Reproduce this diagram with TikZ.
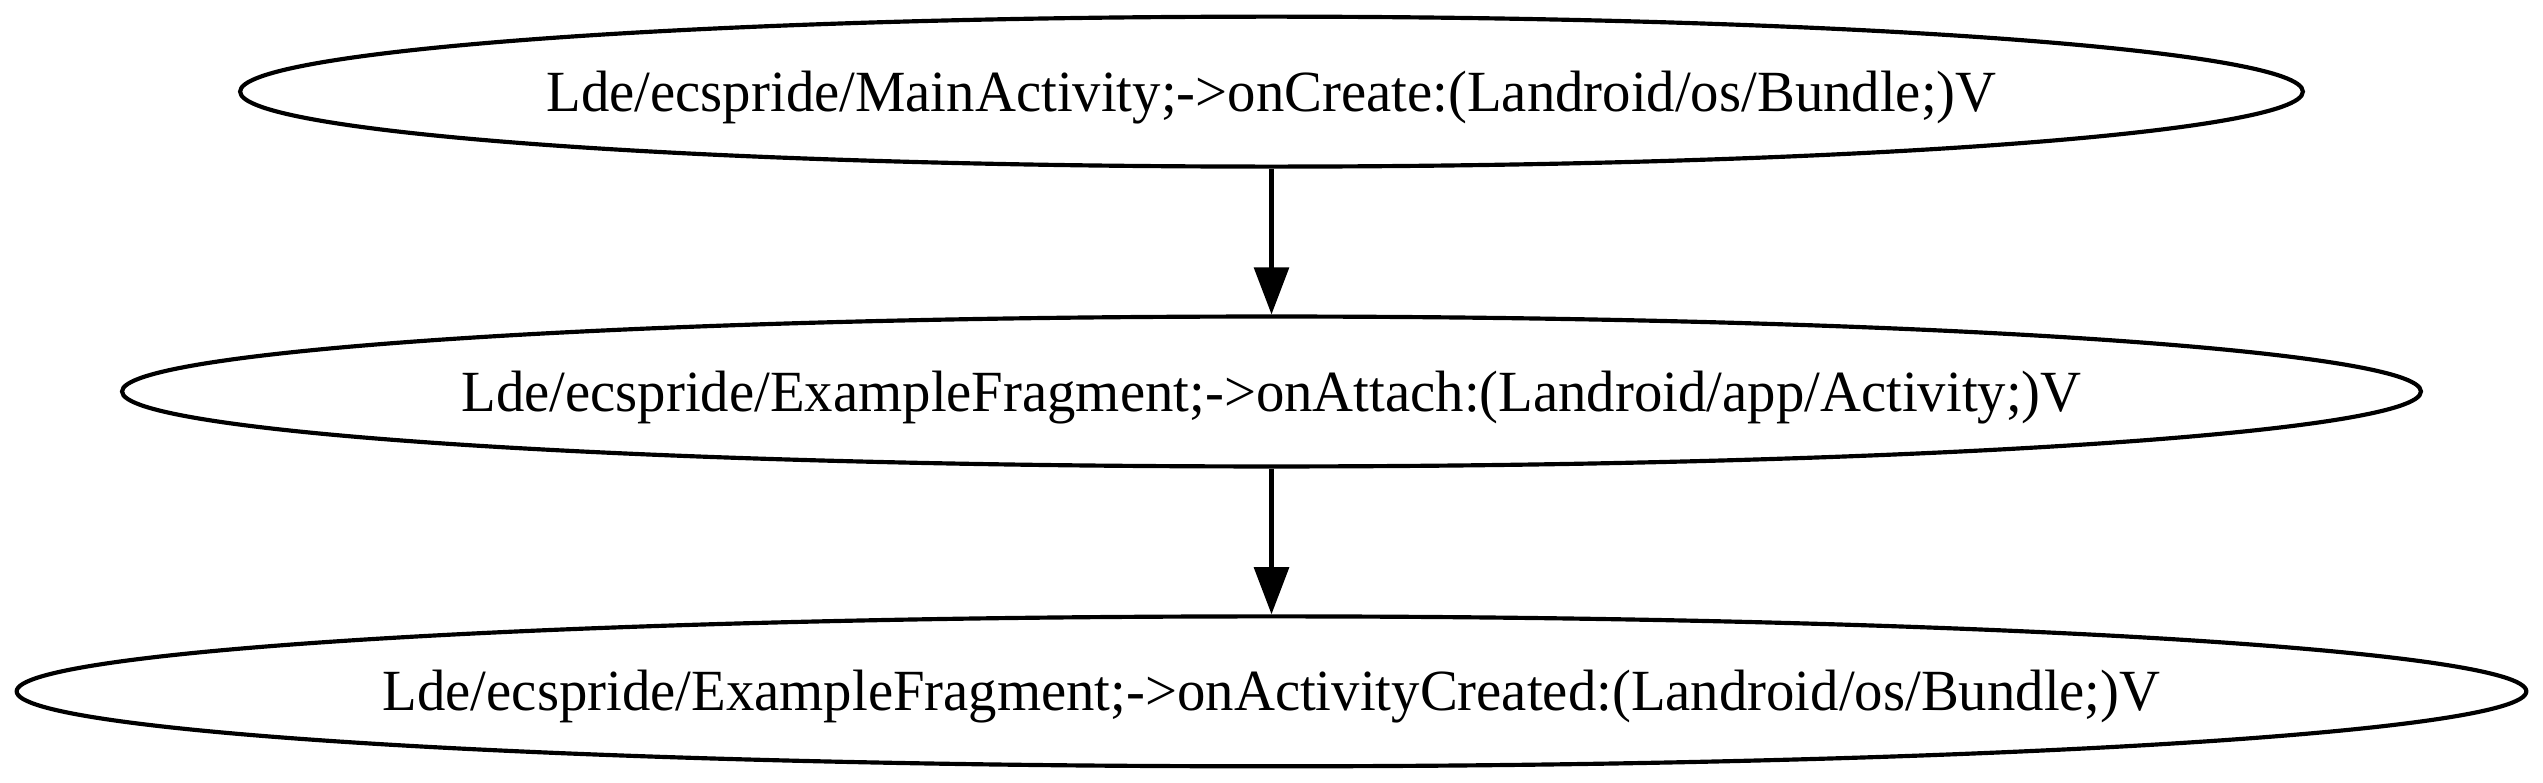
\documentclass[tikz,border=0pt]{standalone}
\usepackage{fontspec}
\setmainfont{Liberation Serif}[FakeStretch=0.973]
\usetikzlibrary{shapes.geometric,arrows.meta}
\begin{document}
\begin{tikzpicture}[x=1pt,y=1pt,
  fn/.style={ellipse, draw=black, line width=1pt, inner sep=0pt, minimum height=36pt},
  txt/.style={anchor=base, inner sep=0pt, font=\fontsize{14pt}{16pt}\selectfont},
  edge/.style={line width=1pt, -{Triangle[length=11.3pt,width=8.3pt]}}]
\useasboundingbox (0,0) rectangle (610.6,188);
\node[fn, minimum width=495.3pt] (a) at (305.3,166) {};
\node[fn, minimum width=552pt] (b) at (305.3,94) {};
\node[fn, minimum width=602.6pt] (c) at (305.3,22) {};
\node[txt] (at) at ([yshift=-4.7pt]a.center) {Lde/ecspride/MainActivity;->onCreate:(Landroid/os/Bundle;)V};
\node[txt] (bt) at ([yshift=-4.7pt]b.center) {Lde/ecspride/ExampleFragment;->onAttach:(Landroid/app/Activity;)V};
\node[txt] (ct) at ([yshift=-4.7pt]c.center) {Lde/ecspride/ExampleFragment;->onActivityCreated:(Landroid/os/Bundle;)V};
\draw[edge] (a.south) -- (b.north);
\draw[edge] (b.south) -- (c.north);
\end{tikzpicture}
\end{document}
